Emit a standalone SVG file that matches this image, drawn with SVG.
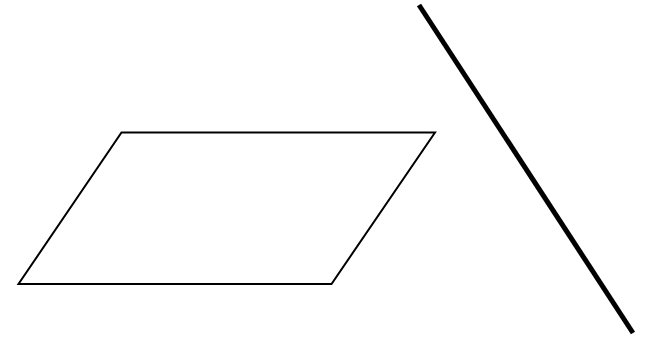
<svg xmlns="http://www.w3.org/2000/svg" width="651" height="340" viewBox="0 0 651 340">
<style>
.shape{fill:none;stroke:#000;stroke-width:2;stroke-linejoin:miter}
.thick{fill:none;stroke:#000;stroke-width:5}
</style>
<rect width="651" height="340" fill="#fff"/>
<g id="parallelogram"><polygon class="shape" points="121.5,132.5 435,132.5 331.5,284 18.5,284"/></g>
<g id="line"><line class="thick" x1="419" y1="5" x2="633" y2="333"/></g>
</svg>
